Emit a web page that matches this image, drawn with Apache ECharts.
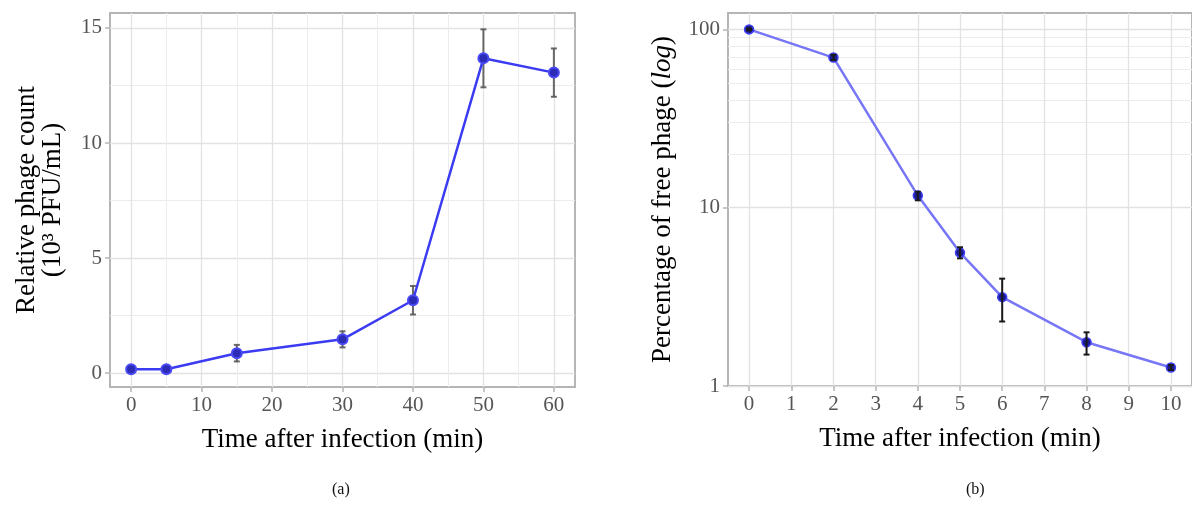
<!DOCTYPE html>
<html>
<head>
<meta charset="utf-8">
<script src="https://cdn.jsdelivr.net/npm/echarts@6/dist/echarts.min.js"></script>
<style>
    html, body { margin: 0; background: #fff; }
    #chart { width: 1192px; height: 505px; }
</style>
</head>
<body>
<div id="chart"></div>
<script>
    // (a) one-step growth curve
    const timeA = [0, 5, 15, 30, 40, 50, 60];
    const countA = [0.17, 0.17, 0.87, 1.47, 3.17, 13.68, 13.06];
    const errA = [0.04, 0.04, 0.36, 0.35, 0.62, 1.26, 1.05];
    const xTicksA = [0, 10, 20, 30, 40, 50, 60];
    const xMinorA = [5, 15, 25, 35, 45, 55];
    const yTicksA = [0, 5, 10, 15];
    const yMinorA = [2.5, 7.5, 12.5];

    // (b) adsorption curve (log scale)
    const timeB = [0, 2, 4, 5, 6, 8, 10];
    const pctB = [100, 69.5, 11.7, 5.6, 3.15, 1.76, 1.27];
    const lowB = [98.8, 67.3, 11.0, 5.2, 2.3, 1.5, 1.23];
    const highB = [101.2, 72.0, 12.3, 6.0, 4.0, 2.0, 1.31];
    const xTicksB = [0, 1, 2, 3, 4, 5, 6, 7, 8, 9, 10];
    const yTicksB = [1, 10, 100];
    const yMinorB = [20, 30, 40, 50, 60, 70, 80, 90];

    const serif = "'Liberation Serif', 'DejaVu Serif', serif";
    const gridBorder = '#b5b5b5';
    const majorLine = { show: true, lineStyle: { color: '#e2e2e2', width: 1.3 } };
    const minorLine = { show: true, lineStyle: { color: '#ececec', width: 1 } };
    const tickLabel = { fontFamily: serif, fontSize: 21, color: '#555' };
    const titleText = { fontFamily: serif, fontSize: 27, color: '#000' };

    function errorBar(color, cap) {
        return function (params, api) {
            const x = api.value(0);
            const top = api.coord([x, api.value(2)]);
            const bot = api.coord([x, api.value(1)]);
            const style = { stroke: color, lineWidth: 2 };
            return {
                type: 'group',
                children: [
                    { type: 'line', shape: { x1: top[0], y1: top[1], x2: bot[0], y2: bot[1] }, style: style },
                    { type: 'line', shape: { x1: top[0] - cap, y1: top[1], x2: top[0] + cap, y2: top[1] }, style: style },
                    { type: 'line', shape: { x1: bot[0] - cap, y1: bot[1], x2: bot[0] + cap, y2: bot[1] }, style: style }
                ]
            };
        };
    }

    // visible axis with custom tick positions
    function mainAxis(extra, ticks) {
        return Object.assign({
            type: 'value',
            axisLine: { show: false, onZero: false },
            axisTick: { show: true, length: 5, customValues: ticks, lineStyle: { color: gridBorder, width: 1.5 } },
            axisLabel: Object.assign({ customValues: ticks, margin: 8 }, tickLabel),
            splitLine: majorLine,
            nameLocation: 'middle',
            nameTextStyle: titleText
        }, extra);
    }
    // invisible axis that only draws minor grid lines
    function minorAxis(extra, ticks) {
        return Object.assign({
            type: 'value',
            axisLine: { show: false, onZero: false },
            axisTick: { show: false, customValues: ticks },
            axisLabel: { show: false, customValues: ticks },
            splitLine: minorLine
        }, extra);
    }

    const errDataA = timeA.map((t, i) => [t, countA[i] - errA[i], countA[i] + errA[i]]);
    const errDataB = timeB.map((t, i) => [t, lowB[i], highB[i]]);
    const lineA = timeA.map((t, i) => [t, countA[i]]);
    const lineB = timeB.map((t, i) => [t, pctB[i]]);

    const myChart = echarts.init(document.getElementById('chart'));
    const option = {
        animation: false,
        grid: [
            { left: 110, top: 13, width: 465, height: 374, show: true, borderColor: gridBorder, borderWidth: 2, backgroundColor: '#fff' },
            { left: 728, top: 13, width: 464, height: 373, show: true, borderColor: gridBorder, borderWidth: 2, backgroundColor: '#fff' }
        ],
        xAxis: [
            mainAxis({ gridIndex: 0, min: -3, max: 63, name: 'Time after infection (min)', nameGap: 39 }, xTicksA),
            minorAxis({ gridIndex: 0, min: -3, max: 63 }, xMinorA),
            mainAxis({ gridIndex: 1, min: -0.5, max: 10.5, name: 'Time after infection (min)', nameGap: 39 }, xTicksB)
        ],
        yAxis: [
            mainAxis({ gridIndex: 0, min: -0.6, max: 15.65, name: 'Relative phage count\n(10³ PFU/mL)', nameGap: 44,
                nameTextStyle: Object.assign({ lineHeight: 26 }, titleText) }, yTicksA),
            minorAxis({ gridIndex: 0, min: -0.6, max: 15.65 }, yMinorA),
            mainAxis({ gridIndex: 1, type: 'log', logBase: 10, min: 1, max: 123.6, nameGap: 52,
                name: 'Percentage of free phage ({i|log})',
                nameTextStyle: Object.assign({ rich: { i: { fontStyle: 'italic', fontFamily: serif, fontSize: 27 } } }, titleText) }, yTicksB),
            minorAxis({ gridIndex: 1, type: 'log', logBase: 10, min: 1, max: 123.6 }, yMinorB)
        ],
        series: [
            {
                type: 'custom', xAxisIndex: 0, yAxisIndex: 0,
                renderItem: errorBar('rgba(80,80,80,0.85)', 3),
                encode: { x: 0, y: [1, 2] },
                data: errDataA, z: 2
            },
            {
                type: 'line', xAxisIndex: 0, yAxisIndex: 0,
                data: lineA,
                symbol: 'circle', symbolSize: 10,
                lineStyle: { color: '#3b3bf2', width: 2.5 },
                itemStyle: { color: '#2b2bb5', borderColor: '#4a4af6', borderWidth: 2 },
                z: 3
            },
            {
                type: 'line', xAxisIndex: 2, yAxisIndex: 2,
                data: lineB,
                symbol: 'circle', symbolSize: 9,
                lineStyle: { color: '#7676f6', width: 2.5 },
                itemStyle: { color: '#1c1c8a', borderColor: '#3f3ff5', borderWidth: 1.5 },
                z: 3
            },
            {
                type: 'custom', xAxisIndex: 2, yAxisIndex: 2,
                renderItem: errorBar('#1a1a1a', 3),
                encode: { x: 0, y: [1, 2] },
                data: errDataB, z: 4
            }
        ],
        graphic: [
            { type: 'text', left: 332, top: 482, style: { text: '(a)', font: '16px ' + serif, fill: '#111' } },
            { type: 'text', left: 966, top: 482, style: { text: '(b)', font: '16px ' + serif, fill: '#111' } }
        ]
    };
    myChart.setOption(option);
</script>
</body>
</html>
